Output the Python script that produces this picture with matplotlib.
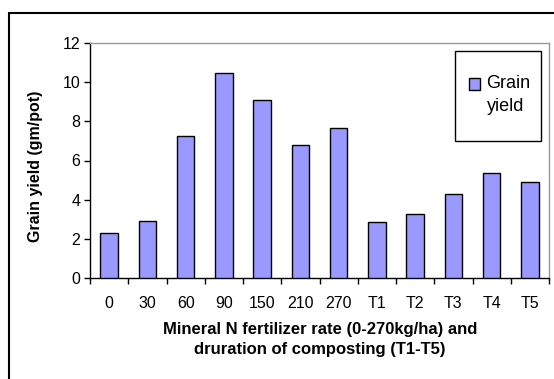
import matplotlib
matplotlib.use("Agg")
import matplotlib.pyplot as plt
from matplotlib.patches import Rectangle
from matplotlib.legend_handler import HandlerPatch
import numpy as np

categories = ["0", "30", "60", "90", "150", "210", "270", "T1", "T2", "T3", "T4", "T5"]
grain_yield = [2.3, 2.9, 7.25, 10.45, 9.1, 6.8, 7.65, 2.85, 3.25, 4.3, 5.35, 4.9]
y_ticks = [0, 2, 4, 6, 8, 10, 12]

plt.rcParams["font.family"] = ["Liberation Sans", "DejaVu Sans"]

W, H = 554, 379
fig = plt.figure(figsize=(W / 100, H / 100), dpi=100)
fig.patch.set_facecolor("white")

# outer chart frame (left and top edges visible, rest runs off the canvas)
frame = Rectangle((9 / W, -0.05), 1.2, 1 - 13 / H + 0.05, transform=fig.transFigure,
                  fill=False, edgecolor="black", linewidth=1.5)
fig.add_artist(frame)

left, right, top, bottom = 90, 549, 43, 278
ax = fig.add_axes([left / W, 1 - bottom / H, (right - left) / W, (bottom - top) / H])

x = np.arange(len(categories))
bars = ax.bar(x, grain_yield, width=0.46, color="#9999FF", edgecolor="black", linewidth=1.0,
              label="Grain\nyield", zorder=3)

ax.set_xlim(-0.5, len(categories) - 0.5)
ax.set_ylim(0, 12)
ax.set_yticks(y_ticks)
ax.set_yticklabels([str(t) for t in y_ticks], fontsize=11.5)

ax.set_xticks(x)
ax.set_xticklabels(categories, fontsize=11.5)
ax.tick_params(axis="x", length=0, pad=13)
ax.set_xticks(np.arange(-0.5, len(categories) + 0.5, 1), minor=True)
ax.tick_params(axis="x", which="minor", length=4, width=1, direction="out")
ax.tick_params(axis="y", length=4, width=1, direction="out", pad=3)

for side in ("top", "right"):
    ax.spines[side].set_color("#999999")
    ax.spines[side].set_linewidth(1.0)
for side in ("left", "bottom"):
    ax.spines[side].set_color("black")
    ax.spines[side].set_linewidth(1.0)

ax.set_ylabel("Grain yield (gm/pot)", fontsize=11.5, fontweight="bold")
ax.yaxis.set_label_coords((43 - left) / (right - left), (278 - 166) / (bottom - top),
                          transform=ax.transAxes)

fig.text(320 / W, 1 - 322 / H,
         "Mineral N fertilizer rate (0-270kg/ha) and\ndruration of composting (T1-T5)",
         ha="center", va="top", fontsize=12, fontweight="bold", linespacing=1.45)


# legend key sits level with the first line of the two-line label
def raised_key(legend, orig_handle, xdescent, ydescent, width, height, fontsize):
    return Rectangle((-xdescent, -ydescent + 0.62 * fontsize), width, height)


key = bars.patches[0]
leg = ax.legend(handles=[key], labels=["Grain\nyield"],
                loc="center left", bbox_to_anchor=(469 / W, 1 - 95 / H),
                bbox_transform=fig.transFigure, fontsize=13, frameon=False,
                handlelength=0.62, handleheight=0.62, handletextpad=0.35,
                borderpad=0, borderaxespad=0,
                handler_map={key: HandlerPatch(patch_func=raised_key)})
for t in leg.get_texts():
    t.set_linespacing(1.4)
legend_box = Rectangle((455 / W, 1 - 141 / H), 86 / W, 90 / H, transform=fig.transFigure,
                       fill=False, edgecolor="black", linewidth=1.0)
fig.add_artist(legend_box)

fig.savefig("out.png", dpi=100, facecolor="white")
